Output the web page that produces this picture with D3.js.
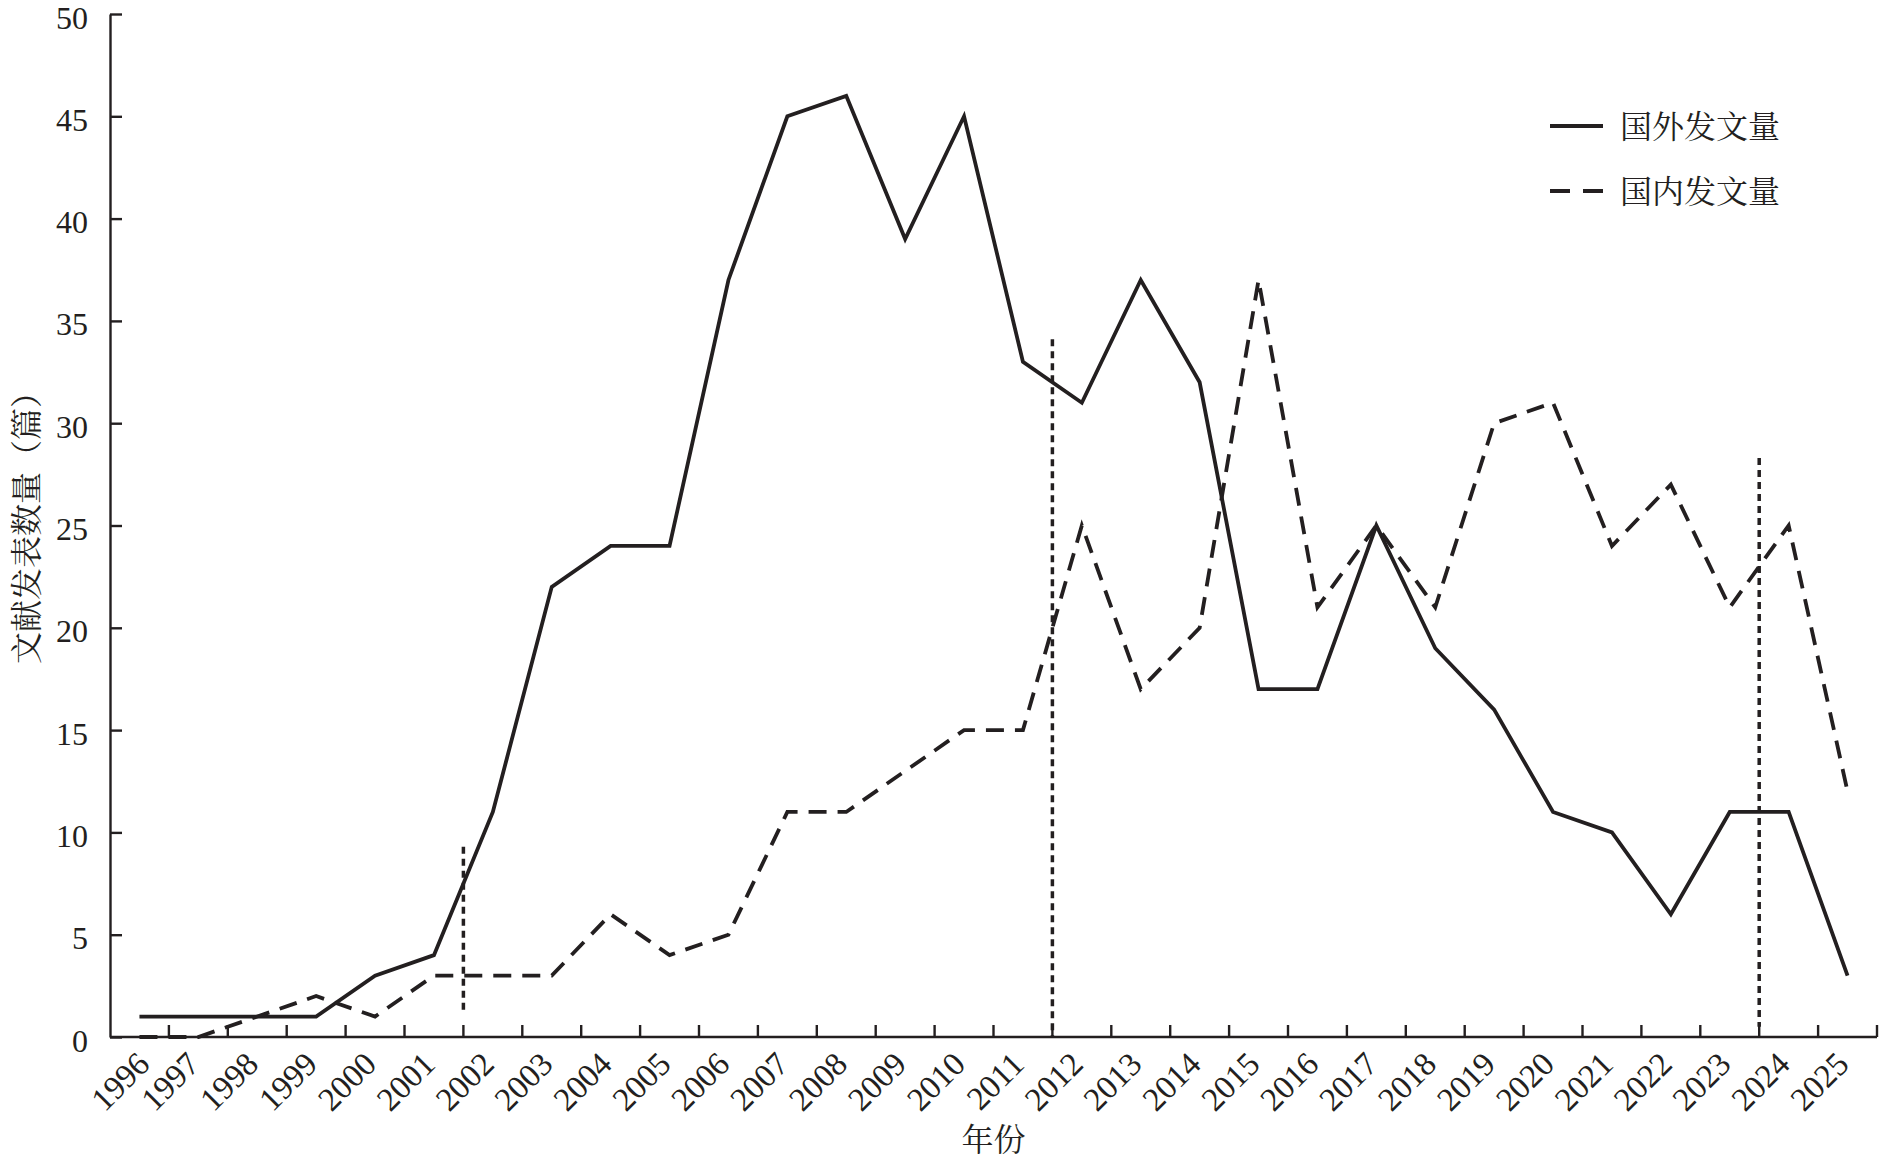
<!DOCTYPE html>
<html>
<head>
<meta charset="utf-8">
<script src="https://cdn.jsdelivr.net/npm/d3@7"></script>
<style>
  html, body { margin: 0; padding: 0; background: #fff; }
  svg { display: block; }
</style>
</head>
<body>
<svg id="chart" width="1879" height="1161"></svg>
<script>
// ---- data ----
const years = [1996,1997,1998,1999,2000,2001,2002,2003,2004,2005,2006,2007,2008,2009,2010,
               2011,2012,2013,2014,2015,2016,2017,2018,2019,2020,2021,2022,2023,2024,2025];
const foreignCounts  = [1,1,1,1,3,4,11,22,24,24,37,45,46,39,45,33,31,37,32,17,17,25,19,16,11,10,6,11,11,3];
const domesticCounts = [0,0,1,2,1,3,3,3,6,4,5,11,11,13,15,15,25,17,20,37,21,25,21,30,31,24,27,21,25,12];
const yTicks = [0,5,10,15,20,25,30,35,40,45,50];
const seriesNames = ["国外发文量", "国内发文量"];
const xTitle = "年份";
const yTitle = "文献发表数量（篇）";
// stage divider lines: at left boundary of the given year, spanning value range
const dividerYears  = [2002, 2012, 2024];
const dividerTops   = [9.3, 34.1, 28.3];
const dividerBottoms= [1.3, 0, 0.5];

// ---- layout ----
const ink = "#231f20";
const serif = "'Liberation Serif', 'Times New Roman', serif";
const cjk = "'Noto Serif CJK SC', 'Noto Sans CJK SC', sans-serif";
const svg = d3.select("#chart");

const x = d3.scaleBand().domain(years).range([110, 1877]).paddingInner(0).paddingOuter(0);
const y = d3.scaleLinear().domain([0, 50]).range([1037, 14]);
const cx = d => x(d) + x.bandwidth() / 2;

// y axis
const yAxis = d3.axisLeft(y).tickValues(yTicks).tickSizeInner(-12).tickSizeOuter(0).tickPadding(22);
const gy = svg.append("g").attr("transform", "translate(110,0)").call(yAxis);
gy.select(".domain").attr("stroke", ink).attr("stroke-width", 2.4);
gy.selectAll(".tick line").attr("stroke", ink).attr("stroke-width", 2.4);
gy.selectAll(".tick text").attr("fill", ink).attr("font-family", serif).attr("font-size", 32).attr("dy", "0.44em");

// x axis (ticks at category boundaries, labels at centers)
const gx = svg.append("g");
gx.append("line").attr("x1", x.range()[0]).attr("x2", x.range()[1])
  .attr("y1", y(0)).attr("y2", y(0)).attr("stroke", ink).attr("stroke-width", 2.4);
const boundaries = years.map(d => x(d)).concat([x(years[years.length-1]) + x.bandwidth()]);
gx.selectAll("line.tk").data(boundaries.slice(1)).join("line").attr("class", "tk")
  .attr("x1", d => d).attr("x2", d => d).attr("y1", y(0)).attr("y2", y(0) - 12)
  .attr("stroke", ink).attr("stroke-width", 2.4);
gx.selectAll("text.xl").data(years).join("text").attr("class", "xl")
  .attr("transform", (d, i) => `translate(${cx(d) + (i === 0 ? 12 : 3)},${y(0) + 29}) rotate(-45)`)
  .attr("text-anchor", "end").attr("font-family", serif).attr("font-size", 33).attr("fill", ink)
  .text(d => d);

// titles
svg.append("text").attr("x", (x.range()[0] + x.range()[1]) / 2).attr("y", 1151)
  .attr("text-anchor", "middle").attr("font-family", cjk).attr("font-size", 32).attr("fill", ink)
  .text(xTitle);
svg.append("text").attr("transform", "translate(38,520) rotate(-90)")
  .attr("text-anchor", "middle").attr("font-family", cjk).attr("font-size", 32).attr("fill", ink)
  .text(yTitle);

// divider lines
svg.append("g").selectAll("line").data(dividerYears).join("line")
  .attr("x1", d => x(d)).attr("x2", d => x(d))
  .attr("y1", (d, i) => y(dividerTops[i])).attr("y2", (d, i) => y(dividerBottoms[i]))
  .attr("stroke", ink).attr("stroke-width", 3.5).attr("stroke-dasharray", "7,5");

// series lines
const line = d3.line().x((d, i) => cx(years[i])).y(d => y(d));
svg.append("path").datum(foreignCounts).attr("d", line)
  .attr("fill", "none").attr("stroke", ink).attr("stroke-width", 3.8).attr("stroke-linejoin", "miter");
svg.append("path").datum(domesticCounts).attr("d", line)
  .attr("fill", "none").attr("stroke", ink).attr("stroke-width", 3.8).attr("stroke-dasharray", "18,11");

// legend
const legend = svg.append("g");
const legRows = [{name: seriesNames[0], dash: null, yy: 126}, {name: seriesNames[1], dash: "20,13", yy: 191}];
legRows.forEach(r => {
  legend.append("line").attr("x1", 1550).attr("x2", 1603).attr("y1", r.yy).attr("y2", r.yy)
    .attr("stroke", ink).attr("stroke-width", 4).attr("stroke-dasharray", r.dash);
  legend.append("text").attr("x", 1620).attr("y", r.yy).attr("dy", "0.36em")
    .attr("font-family", cjk).attr("font-size", 32).attr("fill", ink).text(r.name);
});
</script>
</body>
</html>
